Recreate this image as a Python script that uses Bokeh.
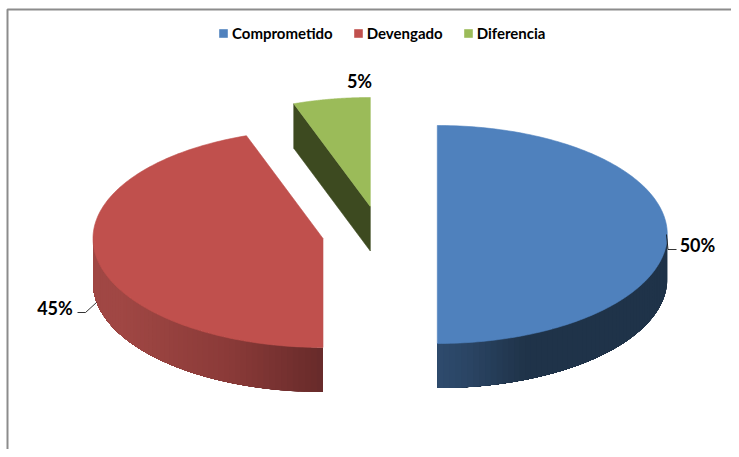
import numpy as np
from bokeh.core.properties import value
from bokeh.embed import file_html
from bokeh.models import Legend, LegendItem, Range1d
from bokeh.plotting import figure
from bokeh.resources import INLINE

categories = ["Comprometido", "Devengado", "Diferencia"]
shares = [50, 44.6, 5.4]
top_colors = ["#4F81BD", "#C0504D", "#9BBB59"]

# layout of the exploded 3-D pie, in picture pixels
centers = [(436.8, 234.0), (322.5, 238.0), (369.8, 206.0)]
RX, RY, DEPTH = 230.0, 109.0, 44.5
SIDE_STOPS = {
    0: ([437, 470, 525, 668], ["#2E4B6D", "#2A4463", "#1F3349", "#1F3349"]),
    1: ([93, 120, 230, 323], ["#A04744", "#A04744", "#8A3A38", "#672A2A"]),
}
GREEN_WALL = "#3D4A20"

W, H = 731, 449
p = figure(width=W, height=H, output_backend="svg", toolbar_location=None,
           x_range=Range1d(0, W), y_range=Range1d(H, 0), min_border=0,
           outline_line_color=None, background_fill_color="white")
p.axis.visible = False
p.grid.visible = False


def hex_rgb(c):
    return np.array([int(c[i:i + 2], 16) for i in (1, 3, 5)], float)


def shade(x, xs, cols):
    rgb = [np.interp(x, xs, [hex_rgb(c)[k] for c in cols]) for k in range(3)]
    return "#%02x%02x%02x" % tuple(int(round(v)) for v in rgb)


def rim(cx, cy, t):
    return cx + RX * np.sin(t), cy - RY * np.cos(t)


edges = np.radians(np.cumsum([0] + shares) * 3.6)
legend_items = []
for i, name in enumerate(categories):
    cx, cy = centers[i]
    a, b = edges[i], edges[i + 1]
    # visible outer wall: the part of the rim that faces the viewer
    lo, hi = max(a, np.pi / 2), min(b, 3 * np.pi / 2)
    if hi > lo:
        ts = np.linspace(lo, hi, 61)
        xs, ys, cs = [], [], []
        # every band runs to the wall's end, later bands paint over the rest,
        # so no seams show between them
        for k in range(len(ts) - 1):
            arc = np.linspace(ts[k], hi, 80)
            ax, ay = rim(cx, cy, arc)
            xs.append(np.r_[ax, ax[::-1]])
            ys.append(np.r_[ay, ay[::-1] + DEPTH])
            cs.append(shade(rim(cx, cy, (ts[k] + ts[k + 1]) / 2)[0], *SIDE_STOPS[i]))
        p.patches(xs, ys, fill_color=cs, line_color=None)
    if i == 2:
        # radial cut wall of the small slice
        ex, ey = rim(cx, cy, a)
        p.patch([cx, ex, ex, cx], [cy, ey, ey + DEPTH, cy + DEPTH],
                fill_color=GREEN_WALL, line_color=GREEN_WALL, line_width=0.6)
    ts = np.linspace(a, b, 160)
    rx, ry = rim(cx, cy, ts)
    top = p.patch(np.r_[cx, rx], np.r_[cy, ry], fill_color=top_colors[i],
                  line_color=top_colors[i], line_width=0.6)
    legend_items.append(LegendItem(label=value(name), renderers=[top]))

# frame of the chart area (open at the right and bottom, as cropped)
p.line([7, 7, W], [H, 9, 9], line_color="#8C8C8C", line_width=2)

# data labels and their leaders
label_x = [697, 54.5, 359]
label_y = [244, 307, 80]
p.text(label_x, label_y, text=[f"{round(v)}%" for v in shares],
       text_font=value("Lato"), text_font_style="bold", text_font_size="18px",
       text_align="center", text_baseline="middle", text_color="#000000")
p.line([666, 667.5, 676], [234, 249, 249], line_color="#000000", line_width=0.8)
p.line([96, 85, 77], [302, 312, 312], line_color="#000000", line_width=0.8)

legend = Legend(items=legend_items, orientation="horizontal", location=(218, 407),
                border_line_color=None, background_fill_alpha=0,
                glyph_width=10, glyph_height=10, label_standoff=4, spacing=20,
                padding=0, margin=0, label_text_font="Lato",
                label_text_font_style="bold", label_text_font_size="15px",
                label_text_color="#000000", label_height=14)
p.add_layout(legend, "center")

open("out.html", "w").write(file_html(p, INLINE))
